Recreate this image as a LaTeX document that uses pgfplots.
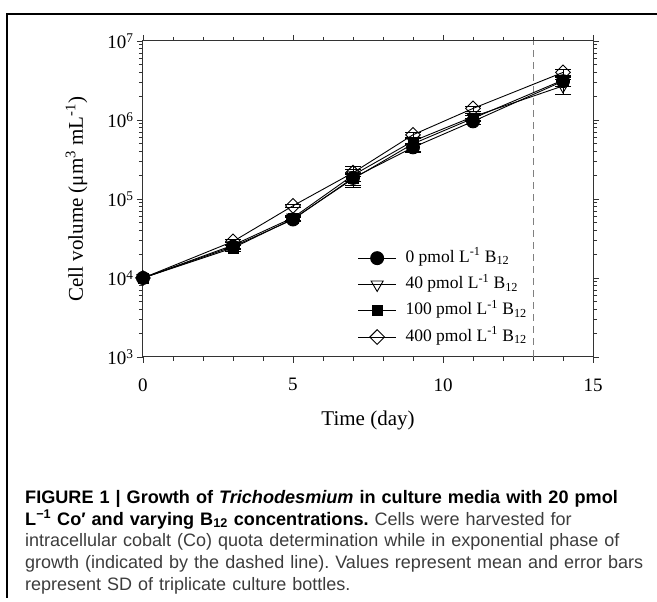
\documentclass[border=0pt]{standalone}
\usepackage{fontspec}
\setmainfont{Liberation Serif}
\newfontfamily\capfont{Liberation Sans}
\usepackage{pgfplots}
\pgfplotsset{compat=1.18}
\definecolor{capgray}{HTML}{3C3C3C}
\pgfplotsset{eb/.style={error bars/.cd, y dir=both, y explicit, error mark options={rotate=90, mark size=8pt, line width=0.8pt, black}}}
\frenchspacing
\begin{document}
\begin{tikzpicture}
\path[use as bounding box] (0,0) rectangle (657pt,602pt);
\draw[line width=1.5pt] (657pt,588pt) -- (7pt,588pt) -- (7pt,4pt);
\begin{axis}[
  at={(143pt,245pt)}, anchor=south west,
  scale only axis, width=450pt, height=316pt,
  xmin=0, xmax=15, ymin=1e3, ymax=1e7,
  ymode=log, log basis y=10,
  xtick={0,5,10,15}, minor x tick num=4,
  ytick={1e3,1e4,1e5,1e6,1e7},
  minor ytick={2e3,3e3,4e3,5e3,6e3,7e3,8e3,9e3,2e4,3e4,4e4,5e4,6e4,7e4,8e4,9e4,2e5,3e5,4e5,5e5,6e5,7e5,8e5,9e5,2e6,3e6,4e6,5e6,6e6,7e6,8e6,9e6},
  yticklabel={\pgfmathparse{int(round(\tick))}10\textsuperscript{\pgfmathresult}},
  /pgf/number format/assume math mode=true,
  tick label style={font=\fontsize{19pt}{19pt}\selectfont},
  xticklabel style={yshift=-12pt},
  tick align=outside, major tick length=6pt, minor tick length=4pt,
  every tick/.style={black!80, line width=0.8pt},
  axis line style={black!80, line width=1pt},
  xlabel={Time (day)},
  x label style={font=\fontsize{21pt}{21pt}\selectfont, at={(axis description cs:0.5,-0.2)}, anchor=center},
  ylabel={Cell volume (μm\textsuperscript{3} mL\textsuperscript{-1})},
  y label style={font=\fontsize{21pt}{21pt}\selectfont, at={(axis description cs:-0.148,0.5)}, anchor=center},
  legend style={draw=none, fill=none, at={(0.47,0.345)}, anchor=north west,
    font=\fontsize{17.5pt}{17.5pt}\selectfont,
    nodes={inner sep=0pt, text height=12pt, text depth=4pt}, row sep=10.3pt, column sep=9pt},
  legend cell align=left,
  legend image code/.code={\draw[mark repeat=2,mark phase=2,#1] plot coordinates {(0pt,0pt)(19pt,0pt)(38pt,0pt)};},
  every axis plot/.append style={black, line width=0.9pt},
]
\addplot[forget plot, dashed, black!50, line width=0.7pt, dash pattern=on 7pt off 5pt] coordinates {(13,1e3)(13,1e7)};
\addplot[mark=*, mark size=6.5pt, mark options={solid, fill=black}, eb] coordinates {
(0,1e4) (3,2.5e4) +- (0,2e3) (5,5.5e4) +- (0,3e3) (7,1.85e5) +- (0,2e4) (9,4.5e5) +- (0,6e4) (11,9.6e5) +- (0,8e4) (14,3.1e6) +- (0,4e5)};
\addlegendentry{0 pmol L\textsuperscript{-1} B\textsubscript{12}}
\addplot[mark=triangle, mark size=7pt, mark options={solid, fill=white, rotate=180}, eb] coordinates {
(0,1e4) (3,2.6e4) +- (0,2e3) (5,5.8e4) +- (0,4e3) (7,2.0e5) +- (0,6e4) (9,5.4e5) +- (0,5e4) (11,1.1e6) +- (0,1e5) (14,2.7e6) +- (0,6e5)};
\addlegendentry{40 pmol L\textsuperscript{-1} B\textsubscript{12}}
\addplot[mark=square*, mark size=5pt, mark options={solid, fill=black}, eb] coordinates {
(0,1e4) (3,2.4e4) +- (0,2e3) (5,5.6e4) +- (0,4e3) (7,1.8e5) +- (0,3e4) (9,5.0e5) +- (0,1e5) (11,1.05e6) +- (0,1e5) (14,3.2e6) +- (0,5e5)};
\addlegendentry{100 pmol L\textsuperscript{-1} B\textsubscript{12}}
\addplot[mark=square, mark size=5.2pt, mark options={solid, fill=white, rotate=45}, eb] coordinates {
(0,1e4) (3,2.9e4) +- (0,2e3) (5,8.2e4) +- (0,3e3) (7,2.15e5) +- (0,2e4) (9,6.5e5) +- (0,5e4) (11,1.4e6) +- (0,1e5) (14,4.0e6) +- (0,4e5)};
\addlegendentry{400 pmol L\textsuperscript{-1} B\textsubscript{12}}
\end{axis}
\node[anchor=north west, inner sep=0pt, text width=645pt, align=left,
      font=\capfont\fontsize{18pt}{21.7pt}\selectfont, text=capgray] at (25pt,112pt) {%
\textcolor{black}{\fontsize{18.1pt}{21.7pt}\selectfont\bfseries FIGURE 1 | Growth of \textit{Trichodesmium} in culture media with 20 pmol}\\
\textcolor{black}{\fontsize{18.1pt}{21.7pt}\selectfont\bfseries L\textsuperscript{−1} Co′ and varying B\textsubscript{12} concentrations.} Cells were harvested for\\
intracellular cobalt (Co) quota determination while in exponential phase of\\
growth (indicated by the dashed line). Values represent mean and error bars\\
represent SD of triplicate culture bottles.};
\end{tikzpicture}
\end{document}
